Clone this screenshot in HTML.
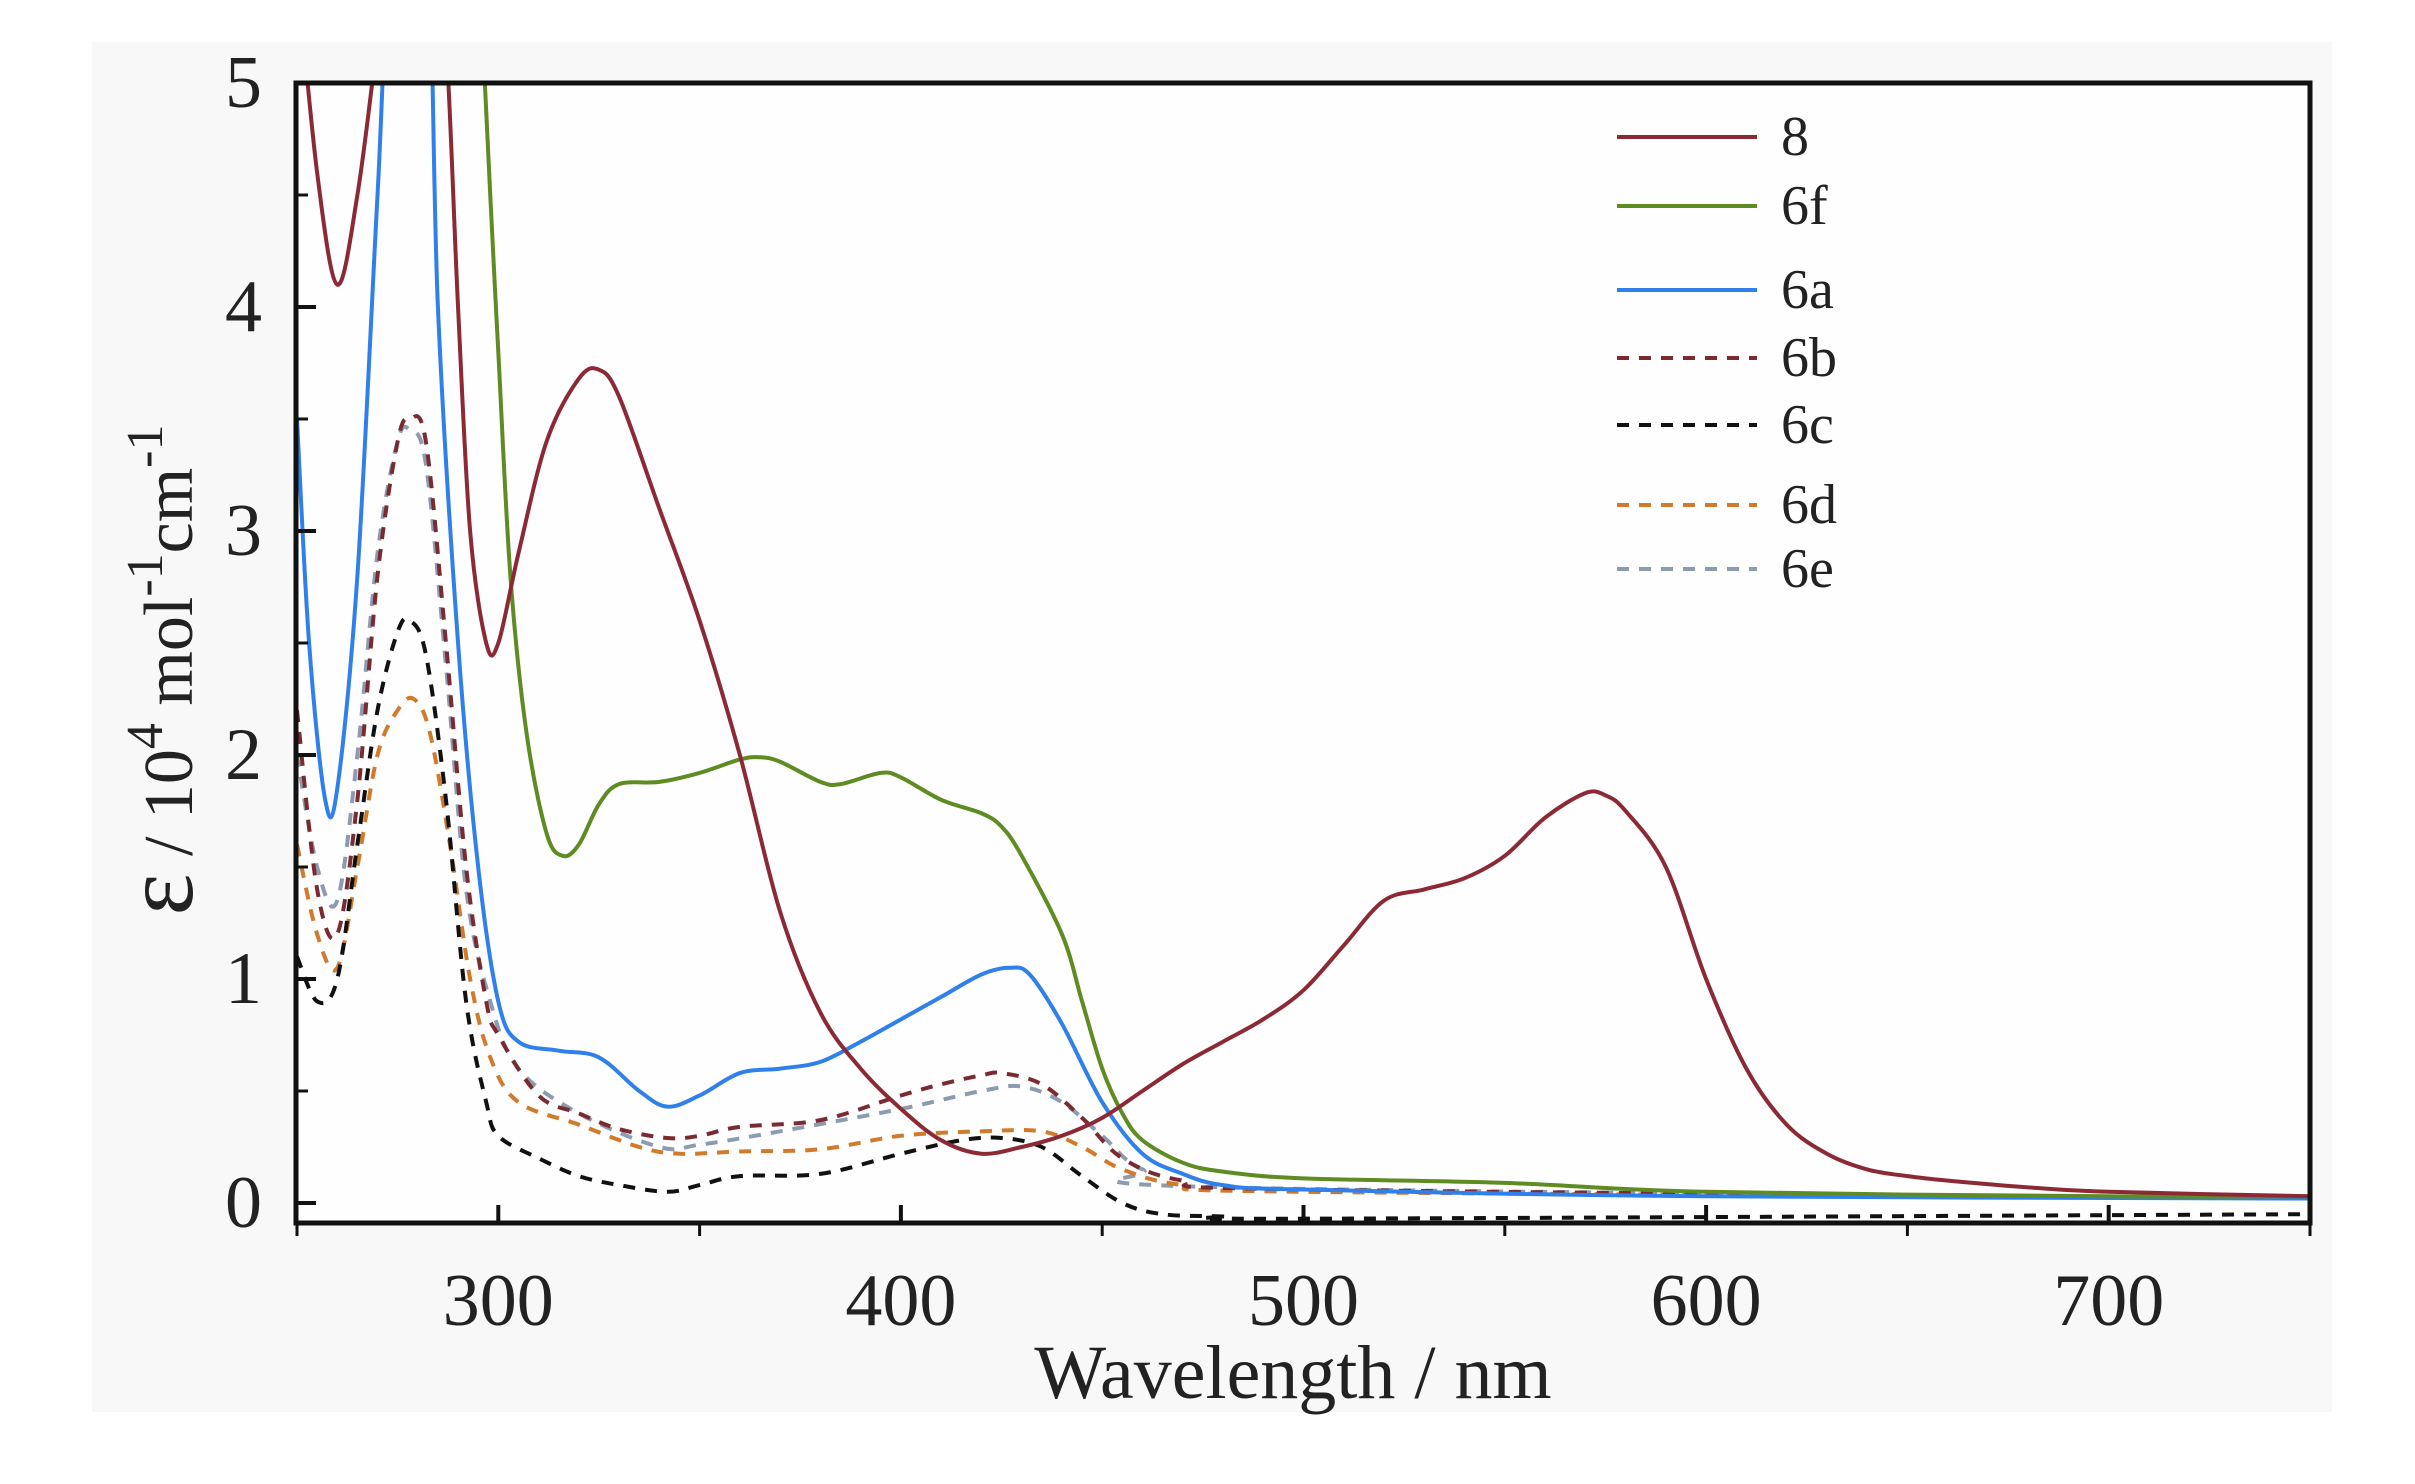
<!DOCTYPE html>
<html><head><meta charset="utf-8"><style>
html,body{margin:0;padding:0;background:#fff;}
svg{display:block;font-family:"Liberation Serif",serif;}
</style></head><body>
<svg width="2415" height="1484" viewBox="0 0 2415 1484">
<rect x="92" y="42" width="2240" height="1370" fill="#f8f8f8"/>
<rect x="296" y="83" width="2014" height="1140" fill="#fefefe"/>
<defs><clipPath id="pc"><rect x="298" y="85" width="2010" height="1136"/></clipPath></defs>
<g id="series" clip-path="url(#pc)"></g>
<rect x="296" y="83" width="2014" height="1140" fill="none" stroke="#111" stroke-width="5"/>
<g id="ticks"></g>
<g id="legend"></g>
<text x="1293" y="1398" font-size="76" text-anchor="middle" fill="#222">Wavelength / nm</text>
<text transform="translate(192,670) rotate(-90)" font-size="70" text-anchor="middle" fill="#222"><tspan font-size="100">ε</tspan> / 10<tspan dy="-30" font-size="52">4</tspan><tspan dy="30"> mol</tspan><tspan dy="-30" font-size="52">-1</tspan><tspan dy="30">cm</tspan><tspan dy="-30" font-size="52">-1</tspan></text>
</svg>
<script>
const xTicks=[300,400,500,600,700];
const xMinor=[250,350,450,550,650,750];
const yTicks=[0,1,2,3,4,5];
const seriesNames=["8","6f","6a","6b","6c","6d","6e"];
const s8=[[250,5.5],[255,4.6],[260,4.1],[265,4.5],[270,5.2],[275,6],[283,6],[287,5.2],[290,4],[293,3],[297,2.5],[300,2.5],[305,2.9],[312,3.4],[320,3.68],[325,3.72],[330,3.6],[340,3.1],[350,2.6],[360,2.0],[370,1.3],[380,0.85],[390,0.6],[400,0.42],[410,0.28],[420,0.22],[430,0.25],[440,0.3],[450,0.38],[460,0.5],[470,0.62],[480,0.72],[490,0.82],[500,0.95],[510,1.15],[520,1.35],[530,1.4],[540,1.45],[550,1.55],[560,1.72],[570,1.83],[575,1.82],[580,1.75],[590,1.5],[600,1.0],[610,0.6],[620,0.35],[630,0.22],[640,0.15],[650,0.12],[660,0.1],[680,0.07],[700,0.05],[750,0.03]];
const s6f=[[294,6],[298,4.5],[300,3.8],[303,2.8],[307,2.1],[312,1.65],[316,1.55],[320,1.6],[325,1.78],[330,1.87],[340,1.88],[350,1.92],[360,1.98],[365,1.99],[370,1.97],[380,1.88],[385,1.87],[395,1.92],[400,1.9],[410,1.8],[420,1.74],[425,1.68],[430,1.55],[440,1.2],[445,0.9],[450,0.6],[455,0.4],[460,0.28],[470,0.18],[480,0.14],[500,0.11],[550,0.09],[600,0.05],[700,0.03],[750,0.03]];
const s6a=[[250,3.5],[253,2.5],[257,1.8],[260,1.85],[265,2.8],[270,4.5],[274,5.8],[282,5.8],[285,4],[290,2.5],[295,1.5],[300,0.9],[305,0.72],[315,0.68],[325,0.65],[335,0.5],[342,0.43],[350,0.48],[360,0.58],[370,0.6],[380,0.63],[390,0.72],[400,0.82],[410,0.92],[420,1.02],[427,1.05],[432,1.02],[440,0.8],[450,0.45],[460,0.22],[470,0.13],[480,0.08],[500,0.06],[600,0.03],[750,0.02]];
const s6b=[[250,2.2],[255,1.4],[260,1.2],[265,1.8],[270,2.8],[275,3.4],[278,3.5],[282,3.4],[287,2.5],[292,1.5],[297,0.9],[300,0.75],[310,0.48],[320,0.4],[330,0.33],[342,0.29],[350,0.3],[360,0.34],[380,0.37],[400,0.48],[410,0.53],[420,0.57],[425,0.58],[435,0.53],[445,0.38],[455,0.2],[470,0.1],[500,0.06],[750,0.02]];
const s6c=[[250,1.1],[255,0.9],[260,1.0],[265,1.6],[270,2.2],[275,2.55],[278,2.6],[282,2.45],[287,1.8],[292,0.9],[297,0.45],[300,0.3],[310,0.2],[320,0.12],[330,0.08],[342,0.05],[350,0.08],[360,0.12],[380,0.13],[400,0.22],[415,0.28],[425,0.29],[435,0.25],[445,0.12],[455,0.0],[465,-0.05],[480,-0.06],[500,-0.07],[750,-0.05]];
const s6d=[[250,1.6],[255,1.2],[260,1.05],[265,1.5],[270,2.0],[275,2.2],[279,2.25],[283,2.1],[288,1.6],[293,1.0],[298,0.65],[305,0.45],[320,0.35],[335,0.25],[345,0.22],[360,0.23],[380,0.24],[400,0.3],[420,0.32],[435,0.32],[445,0.25],[455,0.15],[470,0.08],[500,0.05],[750,0.02]];
const s6e=[[250,2.0],[255,1.5],[260,1.35],[265,2.0],[270,2.9],[275,3.4],[278,3.45],[282,3.3],[287,2.4],[292,1.4],[298,0.9],[305,0.6],[320,0.4],[340,0.25],[350,0.26],[370,0.32],[400,0.42],[420,0.5],[430,0.52],[440,0.45],[450,0.3],[460,0.15],[480,0.07],[750,0.02]];

const NS="http://www.w3.org/2000/svg";
const X=v=>297+(v-250)*(2310-297)/500;
const Y=v=>1203-v*224;
function el(t,a,p){const e=document.createElementNS(NS,t);for(const k in a)e.setAttribute(k,a[k]);p.appendChild(e);return e;}
function path(pts){const P=pts.map(p=>[X(p[0]),Y(p[1])]);let d=`M${P[0][0]},${P[0][1]}`;
for(let i=0;i<P.length-1;i++){const p0=P[Math.max(0,i-1)],p1=P[i],p2=P[i+1],p3=P[Math.min(P.length-1,i+2)];
d+=` C${p1[0]+(p2[0]-p0[0])/6},${p1[1]+(p2[1]-p0[1])/6} ${p2[0]-(p3[0]-p1[0])/6},${p2[1]-(p3[1]-p1[1])/6} ${p2[0]},${p2[1]}`;}return d;}
const styles=[["#8b2a35",null],["#5e8c22",null],["#2f80ea",null],["#7a2a30","12 10"],["#111","12 10"],["#d27a2c","12 10"],["#8c9bb0","12 10"]];
const data=[s8,s6f,s6a,s6b,s6c,s6d,s6e];
const g=document.getElementById('series');
const order=[6,5,4,3,2,1,0];
order.forEach(i=>{const a={d:path(data[i]),fill:"none",stroke:styles[i][0],"stroke-width":4};if(styles[i][1])a["stroke-dasharray"]=styles[i][1];
const p=el('path',a,g);

});
const t=document.getElementById('ticks');
xTicks.forEach(v=>{const l=el('line',{x1:X(v),x2:X(v),y1:1223,y2:1205,stroke:"#111","stroke-width":4},t);


const tx=el('text',{x:X(v),y:1325,"font-size":74,"text-anchor":"middle",fill:"#222"},t);tx.textContent=v;

});
xMinor.forEach(v=>{const l=el('line',{x1:X(v),x2:X(v),y1:1223,y2:1236,stroke:"#111","stroke-width":3},t);

});
yTicks.forEach(v=>{const l=el('line',{x1:296,x2:316,y1:Y(v),y2:Y(v),stroke:"#111","stroke-width":4},t);


if(v<5){const m=el('line',{x1:296,x2:308,y1:Y(v+0.5),y2:Y(v+0.5),stroke:"#111","stroke-width":3},t);

}
const tx=el('text',{x:262,y:Y(v)+24,"font-size":74,"text-anchor":"end",fill:"#222"},t);tx.textContent=v;

});
const lg=document.getElementById('legend');
const ly=[137,206,290,358,425,505,569];
seriesNames.forEach((n,i)=>{const a={x1:1617,x2:1757,y1:ly[i],y2:ly[i],stroke:styles[i][0],"stroke-width":4};if(styles[i][1])a["stroke-dasharray"]=styles[i][1];
const l=el('line',a,lg);


const tx=el('text',{x:1781,y:ly[i]+18,"font-size":56,fill:"#222"},lg);tx.textContent=n;

});
</script>
</body></html>
